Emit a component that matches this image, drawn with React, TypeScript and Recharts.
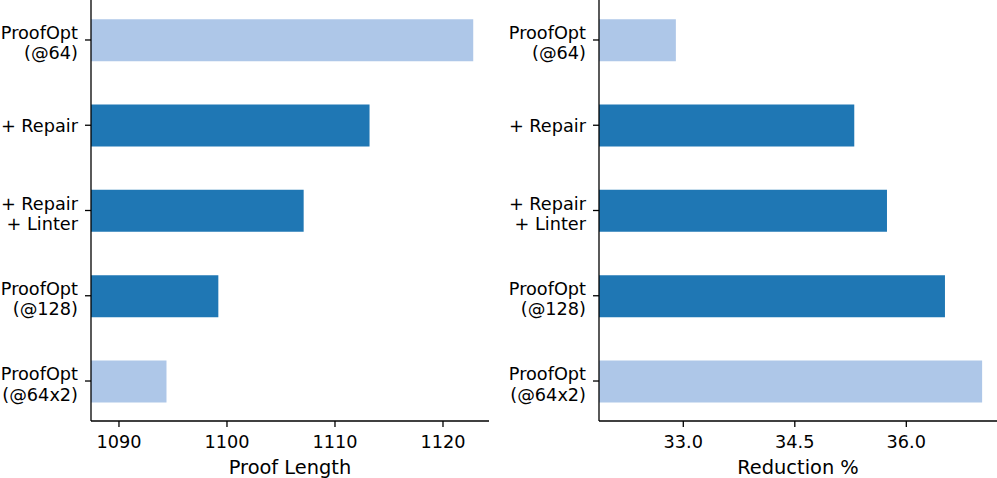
import React from "react";
import { BarChart, Bar, XAxis, YAxis, Cell } from "recharts";

const categories = ["ProofOpt\n(@64)", "+ Repair", "+ Repair\n+ Linter", "ProofOpt\n(@128)", "ProofOpt\n(@64x2)"];
const proofLength = [1122.8, 1113.2, 1107.1, 1099.2, 1094.4];
const reductionPct = [32.9, 35.3, 35.74, 36.52, 37.02];
const lengthTicks = [1090, 1100, 1110, 1120];
const reductionTicks = [33.0, 34.5, 36.0];

const barColors = ["#aec7e8", "#1f77b4", "#1f77b4", "#1f77b4", "#aec7e8"];

const lengthData = categories.map((c, i) => ({ idx: i, name: c, value: proofLength[i] }));
const reductionData = categories.map((c, i) => ({ idx: i, name: c, value: reductionPct[i] }));

const FONT = "'DejaVu Sans', sans-serif";
const TICK_FS = 17.7;
const LABEL_FS = 19.4;

const CatTick = (props: any) => {
  const { x, y, payload } = props;
  const name = categories[payload.value] ?? "";
  const lines = name.split("\n");
  const offs = lines.length === 1 ? [6.5] : [-1, 19.5];
  return (
    <text x={x} y={y} textAnchor="end" fontSize={TICK_FS} fill="#000" fontFamily={FONT}>
      {lines.map((l: string, i: number) => (
        <tspan key={i} x={x} y={y + offs[i]}>
          {l}
        </tspan>
      ))}
    </text>
  );
};

const axisStyle = { stroke: "#000", strokeWidth: 1.3 };

function Panel(props: {
  data: any[];
  width: number;
  yWidth: number;
  rightMargin: number;
  domain: [number, number];
  ticks: number[];
  label: string;
  fmt?: (v: number) => string;
}) {
  const { data, width, yWidth, rightMargin, domain, ticks, label, fmt } = props;
  return (
    <BarChart
      width={width}
      height={478}
      data={data}
      layout="vertical"
      margin={{ top: 0, right: rightMargin, bottom: 0, left: 0 }}
    >
      <XAxis
        type="number"
        domain={domain}
        ticks={ticks}
        allowDataOverflow
        height={57}
        tickSize={6}
        tickMargin={8}
        tickFormatter={fmt}
        tick={{ fontSize: TICK_FS, fill: "#000", fontFamily: FONT }}
        axisLine={axisStyle}
        tickLine={axisStyle}
        label={{ value: label, position: "insideBottom", offset: 4, fontSize: LABEL_FS, fill: "#000", fontFamily: FONT }}
      />
      <YAxis
        type="number"
        dataKey="idx"
        domain={[-0.469, 4.469]}
        ticks={[0, 1, 2, 3, 4]}
        allowDataOverflow
        width={yWidth}
        tickSize={6}
        tickMargin={7}
        tick={<CatTick />}
        axisLine={axisStyle}
        tickLine={axisStyle}
        interval={0}
      />
      <Bar dataKey="value" barSize={42} isAnimationActive={false}>
        {data.map((_, i) => (
          <Cell key={i} fill={barColors[i]} />
        ))}
      </Bar>
    </BarChart>
  );
}

export default function App() {
  return (
    <div style={{ position: "absolute", left: 0, top: 0, width: 997, height: 478, background: "#fff", fontFamily: FONT, overflow: "hidden" }}>
      <div style={{ position: "absolute", left: 0, top: 0 }}>
        <Panel
          data={lengthData}
          width={500}
          yWidth={91}
          rightMargin={11}
          domain={[1087.41, 1124.26]}
          ticks={lengthTicks}
          label="Proof Length"
        />
      </div>
      <div style={{ position: "absolute", left: 500, top: 0 }}>
        <Panel
          data={reductionData}
          width={497}
          yWidth={99}
          rightMargin={0}
          domain={[31.866, 37.22]}
          ticks={reductionTicks}
          label="Reduction %"
          fmt={(v: number) => v.toFixed(1)}
        />
      </div>
    </div>
  );
}
